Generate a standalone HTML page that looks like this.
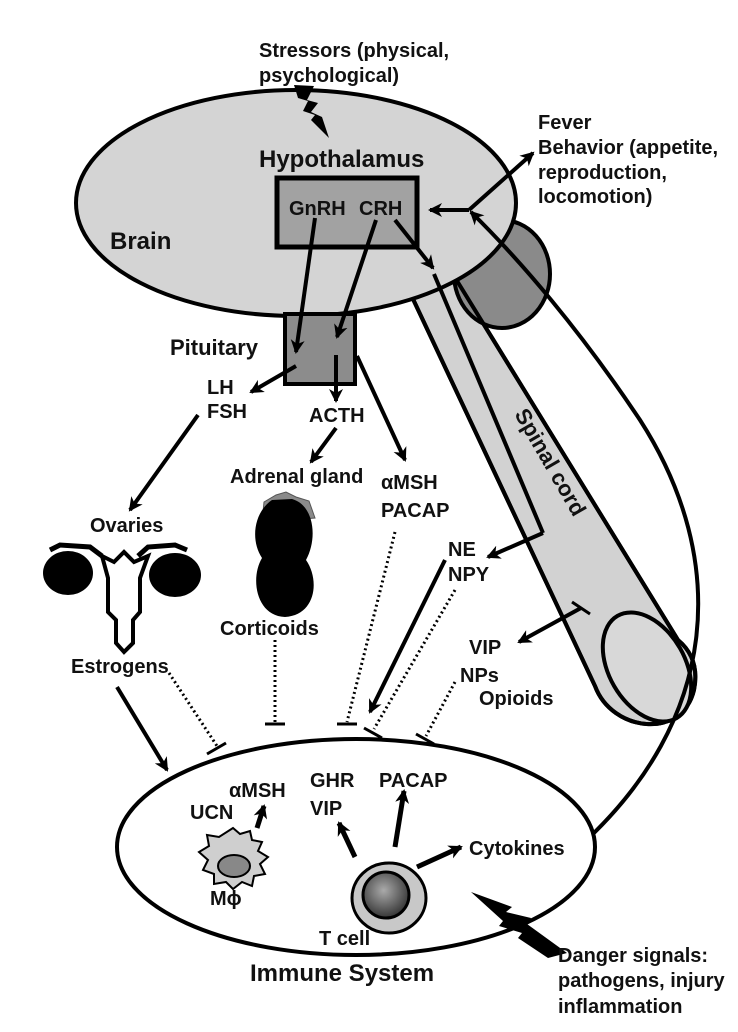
<!DOCTYPE html>
<html><head><meta charset="utf-8"><style>
html,body{margin:0;padding:0;background:#fff}
svg{display:block}
text{font-family:"Liberation Sans",Arial,sans-serif;font-weight:bold;fill:#111}
.l{font-size:20px}
.b{font-size:24px}
</style></head><body>
<svg width="738" height="1032" viewBox="0 0 738 1032" xmlns="http://www.w3.org/2000/svg">
<defs>
<marker id="a" markerUnits="userSpaceOnUse" markerWidth="16" markerHeight="16" refX="12" refY="8" orient="auto">
<path d="M0,1 L14,8 L0,15 L4,8 Z" fill="#000"/>
</marker>
<radialGradient id="tg" cx="0.45" cy="0.4" r="0.7">
<stop offset="0" stop-color="#aaa"/><stop offset="1" stop-color="#222"/>
</radialGradient>
</defs>

<!-- spinal cord -->
<path d="M405,282 L595,686 C612,732 682,740 694,690 C699,665 690,650 678,640 L438,250 Z" fill="#d2d2d2" stroke="#000" stroke-width="4"/>
<ellipse cx="502" cy="274" rx="48" ry="54" fill="#8a8a8a" stroke="#000" stroke-width="4"/>
<path d="M405,282 L595,686 C612,732 682,740 694,690 C699,665 690,650 678,640 L438,250" fill="none" stroke="#000" stroke-width="4"/>
<ellipse cx="0" cy="0" rx="38" ry="59" transform="translate(647,667) rotate(-30)" fill="#d8d8d8" stroke="#000" stroke-width="4"/>
<text transform="translate(514,414) rotate(60)" font-size="22">Spinal cord</text>

<!-- brain -->
<ellipse cx="296" cy="203" rx="220" ry="113" fill="#d4d4d4" stroke="#000" stroke-width="4"/>
<rect x="277" y="178" width="140" height="69" fill="#a2a2a2" stroke="#000" stroke-width="5"/>
<text class="b" x="259" y="167">Hypothalamus</text>
<text class="b" x="110" y="249">Brain</text>
<text class="l" x="289" y="215">GnRH</text>
<text class="l" x="359" y="215">CRH</text>

<!-- pituitary -->
<rect x="285" y="314" width="70" height="70" fill="#8c8c8c" stroke="#000" stroke-width="4"/>
<text x="170" y="355" font-size="22">Pituitary</text>

<!-- stressors -->
<text class="l" x="259" y="57">Stressors (physical,</text>
<text class="l" x="259" y="82">psychological)</text>
<polygon points="294,85 314,86 307,100 318,103 311,112 322,117 329,138 311,120 315,115 303,111 308,101 298,98" fill="#000"/>

<!-- fever -->
<text class="l" x="538" y="129">Fever</text>
<text class="l" x="538" y="154">Behavior (appetite,</text>
<text class="l" x="538" y="179">reproduction,</text>
<text class="l" x="538" y="203">locomotion)</text>

<g stroke="#000" stroke-width="4" fill="none">
<line x1="469" y1="210" x2="430" y2="210" marker-end="url(#a)"/>
<line x1="469" y1="210" x2="533" y2="153" marker-end="url(#a)"/>
<path d="M579,847 C720,720 730,560 640,420 C580,330 520,260 471,212" marker-end="url(#a)"/>
<line x1="315" y1="218" x2="296" y2="352" marker-end="url(#a)"/>
<line x1="376" y1="220" x2="337" y2="337" marker-end="url(#a)"/>
<line x1="395" y1="220" x2="433" y2="268" marker-end="url(#a)"/>
<line x1="434" y1="274" x2="543" y2="533"/>
<line x1="543" y1="533" x2="488" y2="557" marker-end="url(#a)"/>
<line x1="581" y1="608" x2="519" y2="642" marker-end="url(#a)"/>
<line x1="572" y1="602" x2="590" y2="614" stroke-width="3"/>
<line x1="296" y1="366" x2="251" y2="392" marker-end="url(#a)"/>
<line x1="336" y1="355" x2="336" y2="401" marker-end="url(#a)"/>
<line x1="357" y1="356" x2="405" y2="460" marker-end="url(#a)"/>
<line x1="336" y1="428" x2="311" y2="462" marker-end="url(#a)"/>
<line x1="198" y1="415" x2="130" y2="510" marker-end="url(#a)"/>
<line x1="117" y1="687" x2="167" y2="770" marker-end="url(#a)"/>
<line x1="445" y1="560" x2="370" y2="712" marker-end="url(#a)"/>
</g>

<text class="l" x="207" y="394">LH</text>
<text class="l" x="207" y="418">FSH</text>
<text class="l" x="309" y="422">ACTH</text>
<text class="l" x="230" y="483">Adrenal gland</text>
<text class="l" x="381" y="489">αMSH</text>
<text class="l" x="381" y="517">PACAP</text>
<text class="l" x="90" y="532">Ovaries</text>
<text class="l" x="220" y="635">Corticoids</text>
<text class="l" x="71" y="673">Estrogens</text>
<text class="l" x="448" y="556">NE</text>
<text class="l" x="448" y="581">NPY</text>
<text class="l" x="469" y="654">VIP</text>
<text class="l" x="460" y="682">NPs</text>
<text class="l" x="479" y="705">Opioids</text>

<!-- ovaries -->
<ellipse cx="68" cy="573" rx="25" ry="22" fill="#000"/>
<ellipse cx="175" cy="575" rx="26" ry="22" fill="#000"/>
<polyline points="50,550 60,545 90,547 102,556" fill="none" stroke="#000" stroke-width="5"/>
<polyline points="187,550 175,545 148,547 138,556" fill="none" stroke="#000" stroke-width="5"/>
<path d="M102,556 L114,562 L124,552 L134,562 L148,556 L140,578 L140,612 L133,620 L133,643 L124,652 L116,643 L116,620 L108,612 L108,578 Z" fill="#fff" stroke="#000" stroke-width="4"/>

<!-- adrenal -->
<path d="M262,522 L264,502 L276,495 L286,492 L296,497 L309,501 L315,518 Z" fill="#8a8a8a" stroke="#555" stroke-width="1"/>
<path d="M272,500 C254,512 250,540 262,558 C250,578 256,616 285,617 C316,615 320,580 306,560 C318,538 314,505 292,499 Z" fill="#000"/>

<!-- dotted inhibitory lines -->
<g stroke="#000" stroke-width="3" stroke-dasharray="2,3" fill="none">
<line x1="169" y1="673" x2="217" y2="746"/>
<line x1="275" y1="640" x2="275" y2="722"/>
<line x1="395" y1="532" x2="347" y2="722"/>
<line x1="455" y1="590" x2="374" y2="729"/>
<line x1="455" y1="682" x2="426" y2="736"/>
<line x1="286" y1="808" x2="340" y2="868"/>
<line x1="329" y1="820" x2="279" y2="864"/>
</g>
<g stroke="#000" stroke-width="3">
<line x1="207" y1="754" x2="226" y2="743"/>
<line x1="265" y1="724" x2="285" y2="724"/>
<line x1="337" y1="724" x2="357" y2="724"/>
<line x1="364" y1="728" x2="382" y2="738"/>
<line x1="416" y1="734" x2="434" y2="744"/>
<line x1="333" y1="875" x2="346" y2="862"/>
<line x1="274" y1="858" x2="284" y2="873"/>
</g>

<!-- immune system -->
<ellipse cx="356" cy="847" rx="239" ry="108" fill="#fff" stroke="#000" stroke-width="4"/>
<text class="l" x="310" y="787">GHR</text>
<text class="l" x="379" y="787">PACAP</text>
<text class="l" x="229" y="797">αMSH</text>
<text class="l" x="190" y="819">UCN</text>
<text class="l" x="310" y="815">VIP</text>
<text class="l" x="469" y="855">Cytokines</text>
<text class="l" x="210" y="905">Mϕ</text>
<text class="l" x="319" y="945">T cell</text>
<text class="b" x="250" y="981">Immune System</text>

<path d="M233,828 L240,834 L250,831 L252,840 L262,842 L258,851 L268,857 L260,864 L265,874 L254,876 L252,886 L242,882 L233,889 L226,882 L214,884 L214,874 L203,870 L208,860 L199,852 L209,846 L207,835 L219,837 Z" fill="#cfcfcf" stroke="#000" stroke-width="2"/>
<ellipse cx="234" cy="866" rx="16" ry="11" fill="#888" stroke="#000" stroke-width="2"/>
<ellipse cx="389" cy="898" rx="37" ry="35" fill="#c8c8c8" stroke="#000" stroke-width="3"/>
<ellipse cx="386" cy="895" rx="23" ry="23" fill="url(#tg)" stroke="#000" stroke-width="3"/>

<g stroke="#000" stroke-width="5" fill="none">
<line x1="257" y1="828" x2="264" y2="806" marker-end="url(#a)"/>
<line x1="355" y1="857" x2="339" y2="823" marker-end="url(#a)"/>
<line x1="395" y1="847" x2="404" y2="791" marker-end="url(#a)"/>
<line x1="417" y1="867" x2="461" y2="847" marker-end="url(#a)"/>
</g>

<!-- danger -->
<polygon points="471,892 512,907 506,912 531,918 527,924 567,953 548,958 518,938 522,933 499,926 503,921" fill="#000"/>
<text class="l" x="558" y="962">Danger signals:</text>
<text class="l" x="558" y="987">pathogens, injury</text>
<text class="l" x="558" y="1013">inflammation</text>
</svg>
</body></html>
